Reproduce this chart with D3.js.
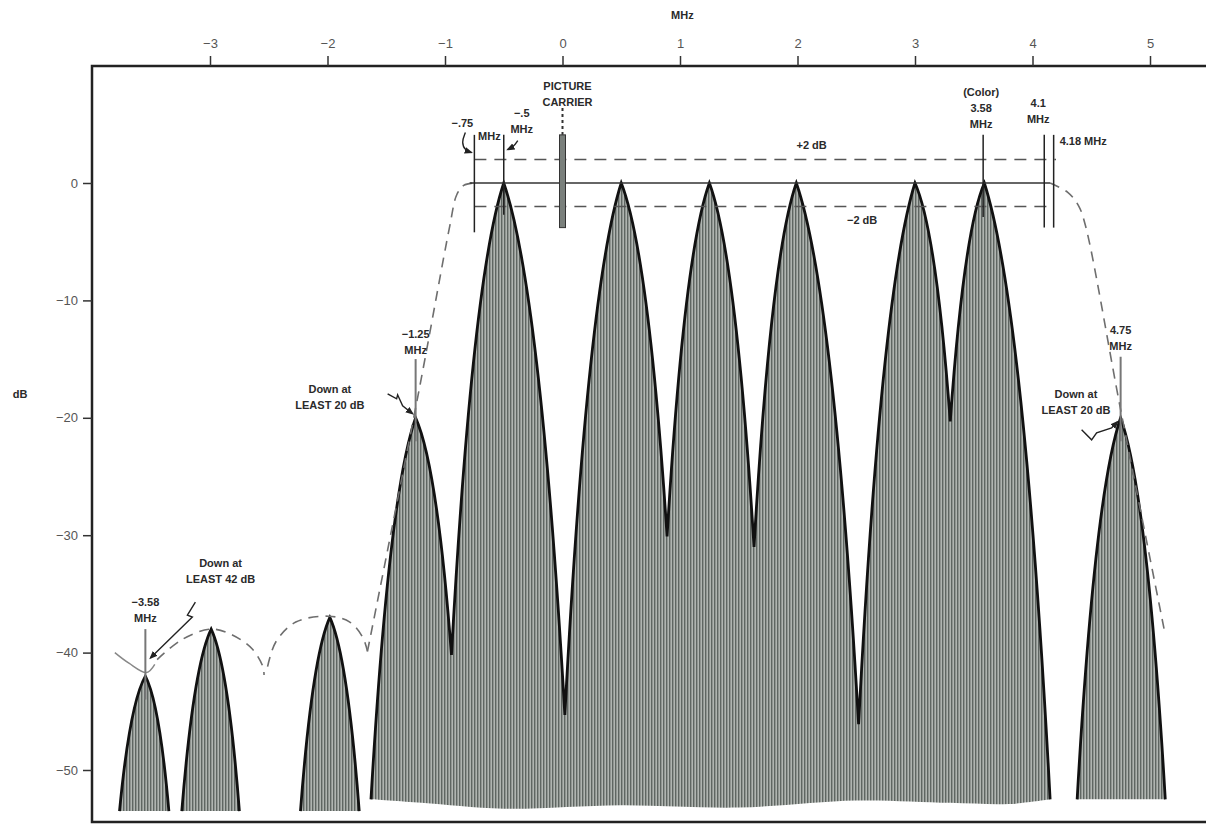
<!DOCTYPE html>
<html>
<head>
<meta charset="utf-8">
<script src="https://cdn.jsdelivr.net/npm/d3@7/dist/d3.min.js"></script>
<style>
  body { margin: 0; background: #fff; }
  text { font-family: "Liberation Sans", Arial, sans-serif; }
  .lbl { font-size: 11px; font-weight: bold; fill: #2a2a2a; }
</style>
</head>
<body>
<div id="chart"></div>
<script>
// axis ticks
const xTicks = [-3, -2, -1, 0, 1, 2, 3, 4, 5]
const yTicks = [0, -10, -20, -30, -40, -50]

// main sideband: base, peak, null, peak ... peak, base (MHz / dB)
const mainFreq = [-1.63, -1.25, -0.945, -0.5, 0.02, 0.5, 0.89, 1.25, 1.63, 1.99, 2.52, 3.0, 3.3, 3.59, 4.15]
const mainDb = [-52.5, -20, -40.2, 0, -45.3, 0, -30.1, 0, -31, 0, -46.1, 0, -20.3, 0, -52.5]
// ragged bottom edge of the main sideband
const mainBaseFreq = [4.15, 3.8, 3.3, 2.5, 1.5, 0.5, -0.5, -1.2, -1.63]
const mainBaseDb = [-52.5, -52.9, -52.8, -52.6, -53.2, -53.0, -53.3, -52.8, -52.5]

// isolated lobes
const lobeFreq = [-3.55, -2.99, -1.98, 4.75]
const lobeDb = [-42, -38, -37, -20]
const lobeLeft = [-3.77, -3.24, -2.23, 4.38]
const lobeRight = [-3.35, -2.75, -1.73, 5.13]
const lobeBase = [-53.5, -53.5, -53.5, -52.5]

// dashed envelopes
const envLeftFreq = [-1.66, -1.22, -0.96, -0.9, -0.84, -0.76]
const envLeftDb = [-39.9, -17.6, -3.7, -1.0, -0.2, 0]
const envRightFreq = [4.15, 4.3, 4.39, 4.45, 4.75, 5.13]
const envRightDb = [0, -0.8, -1.9, -3.6, -19.3, -38.5]
const arc1Freq = [-3.45, -3.24, -2.99, -2.81, -2.64, -2.55, -2.54]
const arc1Db = [-40.6, -38.9, -38.0, -38.5, -39.7, -41.2, -41.9]
const arc2Freq = [-2.51, -2.44, -2.27, -1.99, -1.81, -1.70, -1.66]
const arc2Db = [-41.2, -39.1, -37.4, -36.9, -37.4, -38.7, -39.9]
const vFreq = [-3.81, -3.69, -3.54, -3.47]
const vDb = [-40.0, -40.9, -41.7, -41.0]

// reference levels
const refDb = [2, 0, -2]
const refStart = [-0.75, -0.79, -0.75]
const refEnd = [4.2, 4.15, 4.12]

// marker lines
const markerFreq = [-0.75, -0.5, 3.58, 4.1, 4.18, -1.25, 4.75, -3.55]
const markerTop = [4.1, 4.1, 4.1, 4.1, 4.1, -15, -14.8, -38]
const markerBottom = [-4.2, -2.7, -2.9, -3.8, -3.8, -22, -22, -44]
const carrierFreq = 0
const carrierTop = 4.1
const carrierBottom = -3.8

const svg = d3.select("#chart")
    .append("svg")
    .attr("width", 1206)
    .attr("height", 826)

const x = d3.scaleLinear().domain([-3, 5]).range([210, 1150])
const y = d3.scaleLinear().domain([0, -50]).range([183, 770])

// hatch pattern for the lobes
const defs = svg.append("defs")
const pat = defs.append("pattern")
    .attr("id", "hatch")
    .attr("width", 3)
    .attr("height", 10)
    .attr("patternUnits", "userSpaceOnUse")
pat.append("rect").attr("width", 3).attr("height", 10).attr("fill", "#b0b5b1")
pat.append("rect").attr("width", 1.4).attr("height", 10).attr("fill", "#5f6662")

defs.append("marker")
    .attr("id", "arrow")
    .attr("viewBox", "0 0 10 10")
    .attr("refX", 8).attr("refY", 5)
    .attr("markerWidth", 6).attr("markerHeight", 6)
    .attr("orient", "auto")
    .append("path")
    .attr("d", "M0,1 L10,5 L0,9 Z")
    .attr("fill", "#222")

// control point for a pointed-arch side
const ctrl = (lo, pk) => [lo[0] + 0.4 * (pk[0] - lo[0]), pk[1] + 0.2 * (lo[1] - pk[1])]

// main sideband
const mainPts = mainFreq.map((f, i) => [x(f), y(mainDb[i])])
const sides = d3.path()
sides.moveTo(mainPts[0][0], mainPts[0][1])
for (let i = 0; i < mainPts.length - 1; i++) {
    const a = mainPts[i], b = mainPts[i + 1]
    const pk = i % 2 ? a : b
    const lo = i % 2 ? b : a
    const c = ctrl(lo, pk)
    sides.quadraticCurveTo(c[0], c[1], b[0], b[1])
}
const baseLine = d3.line().curve(d3.curveCatmullRom)(mainBaseFreq.map((f, i) => [x(f), y(mainBaseDb[i])]))

svg.append("path")
    .attr("d", sides.toString() + "L" + baseLine.slice(1) + "Z")
    .attr("fill", "url(#hatch)")
svg.append("path")
    .attr("d", sides.toString())
    .attr("fill", "none")
    .attr("stroke", "#111")
    .attr("stroke-width", 2.8)
    .attr("stroke-linejoin", "miter")

// isolated lobes
lobeFreq.forEach((f, i) => {
    const l = [x(lobeLeft[i]), y(lobeBase[i])]
    const p = [x(f), y(lobeDb[i])]
    const r = [x(lobeRight[i]), y(lobeBase[i])]
    const c1 = ctrl(l, p), c2 = ctrl(r, p)
    const d = `M${l}Q${c1} ${p}Q${c2} ${r}`
    svg.append("path").attr("d", d + "Z").attr("fill", "url(#hatch)")
    svg.append("path").attr("d", d)
        .attr("fill", "none").attr("stroke", "#111").attr("stroke-width", 2.8)
})

// envelopes
const env = d3.line().curve(d3.curveCatmullRom)
const envSets = [[envLeftFreq, envLeftDb], [envRightFreq, envRightDb], [arc1Freq, arc1Db], [arc2Freq, arc2Db]]
envSets.forEach(([fs, ds]) => {
    svg.append("path")
        .attr("d", env(fs.map((f, i) => [x(f), y(ds[i])])))
        .attr("fill", "none")
        .attr("stroke", "#6e6e6e")
        .attr("stroke-width", 1.6)
        .attr("stroke-dasharray", "10,7")
})
svg.append("path")
    .attr("d", env(vFreq.map((f, i) => [x(f), y(vDb[i])])))
    .attr("fill", "none")
    .attr("stroke", "#888")
    .attr("stroke-width", 1.5)

// reference levels
refDb.forEach((d, i) => {
    svg.append("line")
        .attr("x1", x(refStart[i])).attr("x2", x(refEnd[i]))
        .attr("y1", y(d)).attr("y2", y(d))
        .attr("stroke", d === 0 ? "#333" : "#555")
        .attr("stroke-width", 1.3)
        .attr("stroke-dasharray", d === 0 ? null : "12,8")
})

// marker lines
markerFreq.forEach((f, i) => {
    svg.append("line")
        .attr("x1", x(f)).attr("x2", x(f))
        .attr("y1", y(markerTop[i])).attr("y2", y(markerBottom[i]))
        .attr("stroke", i < 5 ? "#222" : "#777")
        .attr("stroke-width", i < 5 ? 1.5 : 2)
})

// picture carrier bar
svg.append("rect")
    .attr("x", x(carrierFreq) - 3).attr("width", 6)
    .attr("y", y(carrierTop)).attr("height", y(carrierBottom) - y(carrierTop))
    .attr("fill", "#7a807c").attr("stroke", "#333").attr("stroke-width", 1)
svg.append("line")
    .attr("x1", x(carrierFreq)).attr("x2", x(carrierFreq))
    .attr("y1", 108).attr("y2", y(carrierTop))
    .attr("stroke", "#333").attr("stroke-width", 2).attr("stroke-dasharray", "3,3")

// frame
svg.append("path")
    .attr("d", "M1206,66 L92,66 L92,822 L1206,822")
    .attr("fill", "none").attr("stroke", "#222").attr("stroke-width", 2.5)

// axes
const xAxis = svg.append("g")
    .attr("transform", "translate(0,66)")
    .call(d3.axisTop(x).tickValues(xTicks).tickSize(10).tickPadding(8))
const yAxis = svg.append("g")
    .attr("transform", "translate(92,0)")
    .call(d3.axisLeft(y).tickValues(yTicks).tickSize(9).tickPadding(5))
;[xAxis, yAxis].forEach(g => {
    g.select(".domain").remove()
    g.selectAll(".tick line").attr("stroke", "#333").attr("stroke-width", 1.5)
    g.selectAll(".tick text").attr("fill", "#555").attr("font-size", 13)
        .attr("font-family", "Liberation Sans, Arial, sans-serif")
})

// annotations
const label = (lines, cx, cy, dy, anchor) => {
    lines.forEach((t, i) => {
        svg.append("text").attr("class", "lbl")
            .attr("x", cx).attr("y", cy + i * dy)
            .attr("text-anchor", anchor || "middle")
            .text(t)
    })
}
label(["MHz"], x(1.02), 19, 0)
label(["dB"], 20, 398, 0)
label(["PICTURE", "CARRIER"], x(carrierFreq) + 5, 90, 16)
label(["−.75"], x(-0.75) - 12, 127, 0)
label(["MHz"], x(-0.75) + 15, 140, 0)
label(["−.5", "MHz"], x(-0.5) + 18, 117, 16)
label(["(Color)", "3.58", "MHz"], x(3.58) - 2, 96, 16)
label(["4.1", "MHz"], x(4.1) - 6, 107, 16)
label(["4.18 MHz"], x(4.18) + 6, 145, 0, "start")
label(["+2 dB"], x(2.12), y(2) - 11, 0)
label(["−2 dB"], x(2.55), y(-2) + 18, 0)
label(["−1.25", "MHz"], x(-1.25), y(-20) - 80, 16)
label(["Down at", "LEAST 20 dB"], x(-1.98), y(-20) - 25, 16)
label(["4.75", "MHz"], x(4.75), y(-20) - 84, 16)
label(["Down at", "LEAST 20 dB"], x(4.37), y(-20) - 20, 16)
label(["−3.58", "MHz"], x(-3.55), y(-42) - 70, 16)
label(["Down at", "LEAST 42 dB"], x(-2.91), y(-42) - 109, 16)

// arrows, as offsets from the point they mark
const arrow = (fx, db, offs, curve) => {
    const ax = x(fx), ay = y(db)
    svg.append("path")
        .attr("d", d3.line().curve(curve || d3.curveLinear)(offs.map(o => [ax + o[0], ay + o[1]])))
        .attr("fill", "none").attr("stroke", "#222").attr("stroke-width", 1.4)
        .attr("marker-end", "url(#arrow)")
}
arrow(-1.25, -20, [[-28, -24], [-19, -19], [-18, -23], [-13, -12], [-3, -4]])
arrow(4.75, -20, [[-39, 12], [-29, 22], [-24, 15], [-9, 10], [-3, 4]])
arrow(-3.55, -42, [[50, -74], [42, -61], [47, -59], [5, -18]])
arrow(-0.75, 2, [[-9, -27], [-13, -17], [-9, -9], [-3, -7]], d3.curveBasis)
arrow(-0.5, 2, [[14, -19], [10, -13], [4, -10]], d3.curveBasis)
</script>
</body>
</html>
